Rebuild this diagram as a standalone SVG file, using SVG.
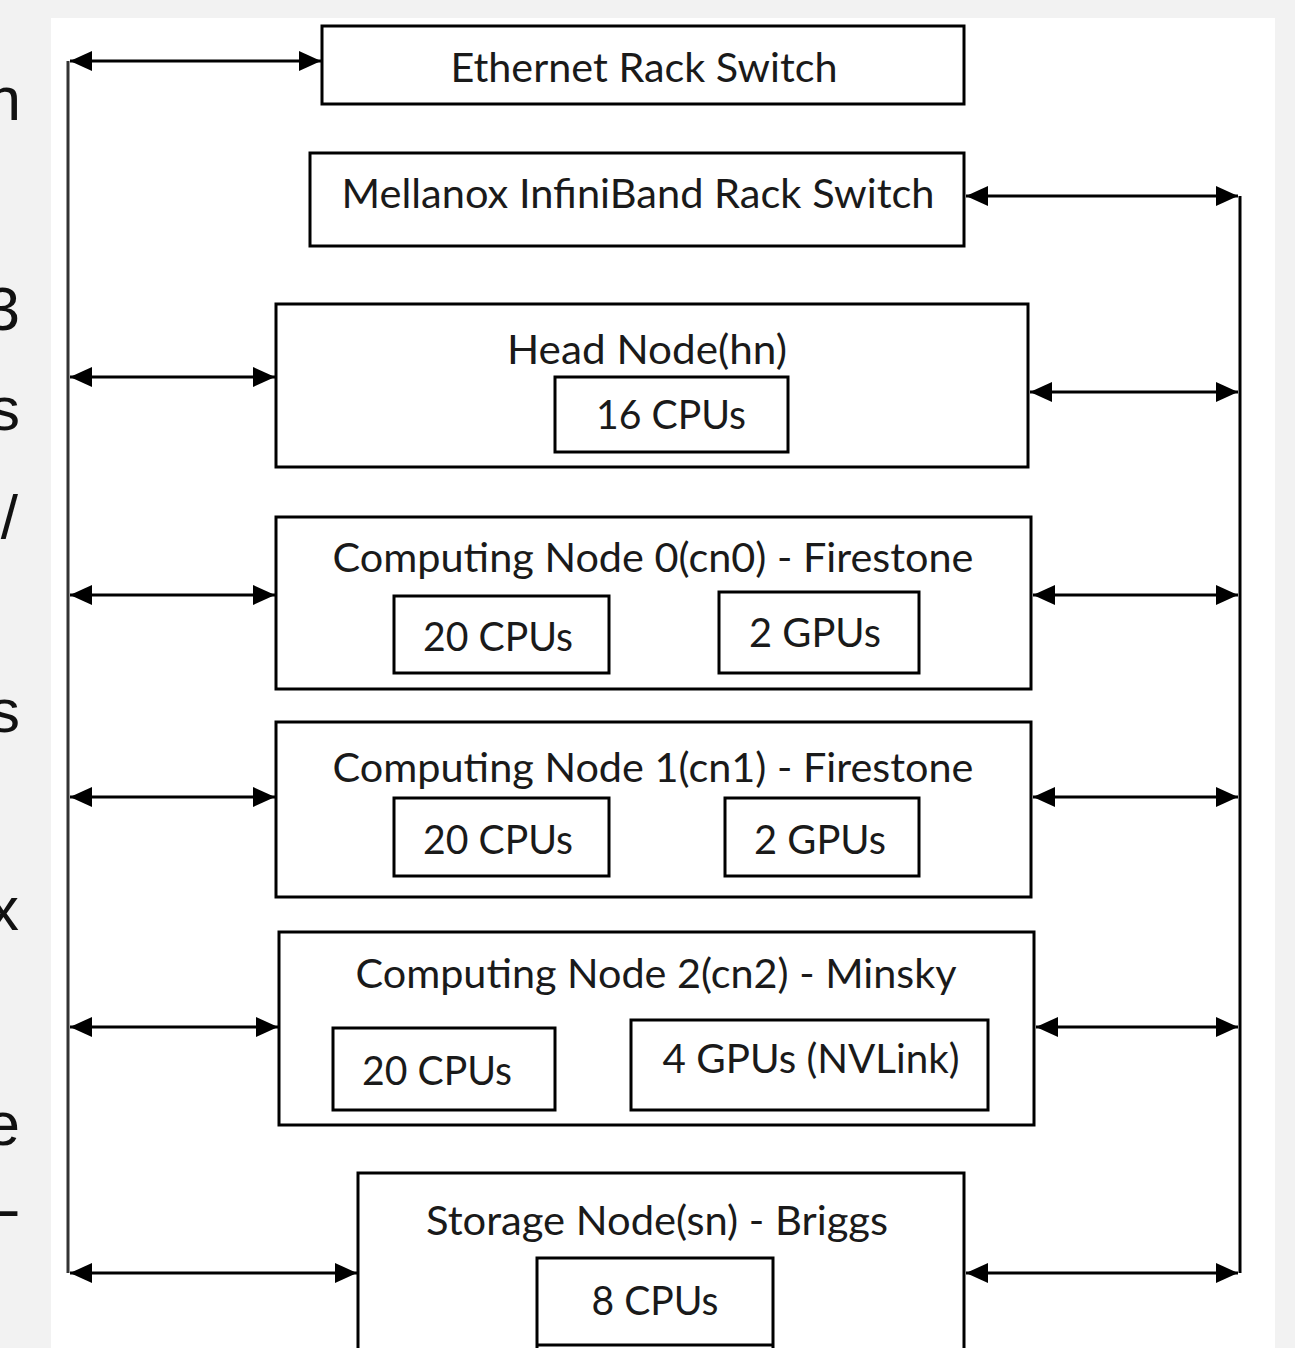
<svg xmlns="http://www.w3.org/2000/svg" width="1295" height="1348" viewBox="0 0 1295 1348">
<style>
.box{fill:none;stroke:#000;stroke-width:3}
.t{font-family:Lato,"Open Sans",sans-serif;font-size:40px;fill:#1a1a1a;text-anchor:middle}
.side{font-family:"Liberation Sans",Arial,sans-serif;font-size:62px;fill:#111}
.c{stroke:#000;stroke-width:3;fill:none}
</style>
<defs>
<marker id="ah" viewBox="0 0 22 20" markerWidth="22" markerHeight="20" refX="22" refY="10" orient="auto-start-reverse" markerUnits="userSpaceOnUse">
<path d="M0,0 L22,10 L0,20 z" fill="#000"/>
</marker>
</defs>
<rect x="0" y="0" width="1295" height="1348" fill="#f2f2f2"/>
<rect x="51" y="18" width="1224" height="1330" fill="#ffffff"/>
<g id="page-text" class="side">
<text x="21" y="120" text-anchor="end">n</text>
<text x="20" y="330" text-anchor="end">3</text>
<text x="20" y="430" text-anchor="end">s</text>
<text x="18" y="538" text-anchor="end">/</text>
<text x="20" y="732" text-anchor="end">s</text>
<text x="19" y="930" text-anchor="end">x</text>
<text x="20" y="1145" text-anchor="end">e</text>
<text x="-15" y="1216">L</text>
</g>
<g id="connectors">
<line class="c" x1="68" y1="61" x2="68" y2="1273" style="stroke:#333"/>
<line class="c" x1="1240" y1="196" x2="1240" y2="1273"/>
<line class="c" x1="70" y1="61" x2="321" y2="61" marker-start="url(#ah)" marker-end="url(#ah)"/>
<line class="c" x1="70" y1="377" x2="275" y2="377" marker-start="url(#ah)" marker-end="url(#ah)"/>
<line class="c" x1="70" y1="595" x2="275" y2="595" marker-start="url(#ah)" marker-end="url(#ah)"/>
<line class="c" x1="70" y1="797" x2="275" y2="797" marker-start="url(#ah)" marker-end="url(#ah)"/>
<line class="c" x1="70" y1="1027" x2="278" y2="1027" marker-start="url(#ah)" marker-end="url(#ah)"/>
<line class="c" x1="70" y1="1273" x2="357" y2="1273" marker-start="url(#ah)" marker-end="url(#ah)"/>
<line class="c" x1="966" y1="196" x2="1238" y2="196" marker-start="url(#ah)" marker-end="url(#ah)"/>
<line class="c" x1="1030" y1="392" x2="1238" y2="392" marker-start="url(#ah)" marker-end="url(#ah)"/>
<line class="c" x1="1033" y1="595" x2="1238" y2="595" marker-start="url(#ah)" marker-end="url(#ah)"/>
<line class="c" x1="1033" y1="797" x2="1238" y2="797" marker-start="url(#ah)" marker-end="url(#ah)"/>
<line class="c" x1="1036" y1="1027" x2="1238" y2="1027" marker-start="url(#ah)" marker-end="url(#ah)"/>
<line class="c" x1="966" y1="1273" x2="1238" y2="1273" marker-start="url(#ah)" marker-end="url(#ah)"/>
</g>
<g id="ethernet">
<rect class="box" x="322" y="26" width="642" height="78"/>
<text class="t" x="644" y="82" textLength="387" lengthAdjust="spacingAndGlyphs">Ethernet Rack Switch</text>
</g>
<g id="mellanox">
<rect class="box" x="310" y="153" width="654" height="93"/>
<text class="t" x="638" y="208" textLength="593" lengthAdjust="spacingAndGlyphs">Mellanox InfiniBand Rack Switch</text>
</g>
<g id="head-node">
<rect class="box" x="276" y="304" width="752" height="163"/>
<text class="t" x="647" y="364" textLength="280" lengthAdjust="spacingAndGlyphs">Head Node(hn)</text>
<rect class="box" x="555" y="377" width="233" height="75"/>
<text class="t" x="671" y="429" textLength="150" lengthAdjust="spacingAndGlyphs">16 CPUs</text>
</g>
<g id="cn0">
<rect class="box" x="276" y="517" width="755" height="172"/>
<text class="t" x="653" y="572" textLength="641" lengthAdjust="spacingAndGlyphs">Computing Node 0(cn0) - Firestone</text>
<rect class="box" x="394" y="596" width="215" height="77"/>
<text class="t" x="498" y="651" textLength="150" lengthAdjust="spacingAndGlyphs">20 CPUs</text>
<rect class="box" x="719" y="592" width="200" height="81"/>
<text class="t" x="815" y="647" textLength="132" lengthAdjust="spacingAndGlyphs">2 GPUs</text>
</g>
<g id="cn1">
<rect class="box" x="276" y="722" width="755" height="175"/>
<text class="t" x="653" y="782" textLength="641" lengthAdjust="spacingAndGlyphs">Computing Node 1(cn1) - Firestone</text>
<rect class="box" x="394" y="798" width="215" height="78"/>
<text class="t" x="498" y="854" textLength="150" lengthAdjust="spacingAndGlyphs">20 CPUs</text>
<rect class="box" x="725" y="798" width="194" height="78"/>
<text class="t" x="820" y="854" textLength="132" lengthAdjust="spacingAndGlyphs">2 GPUs</text>
</g>
<g id="cn2">
<rect class="box" x="279" y="932" width="755" height="193"/>
<text class="t" x="656" y="988" textLength="601" lengthAdjust="spacingAndGlyphs">Computing Node 2(cn2) - Minsky</text>
<rect class="box" x="333" y="1028" width="222" height="82"/>
<text class="t" x="437" y="1085" textLength="150" lengthAdjust="spacingAndGlyphs">20 CPUs</text>
<rect class="box" x="631" y="1020" width="357" height="90"/>
<text class="t" x="811" y="1073" textLength="297" lengthAdjust="spacingAndGlyphs">4 GPUs (NVLink)</text>
</g>
<g id="storage-node">
<path class="box" d="M358,1352 V1173 H964 V1352"/>
<text class="t" x="657" y="1235" textLength="462" lengthAdjust="spacingAndGlyphs">Storage Node(sn) - Briggs</text>
<path class="box" d="M537,1352 V1258 H773 V1352"/>
<path class="box" d="M537,1345 H773"/>
<text class="t" x="655" y="1315" textLength="127" lengthAdjust="spacingAndGlyphs">8 CPUs</text>
</g>
</svg>
